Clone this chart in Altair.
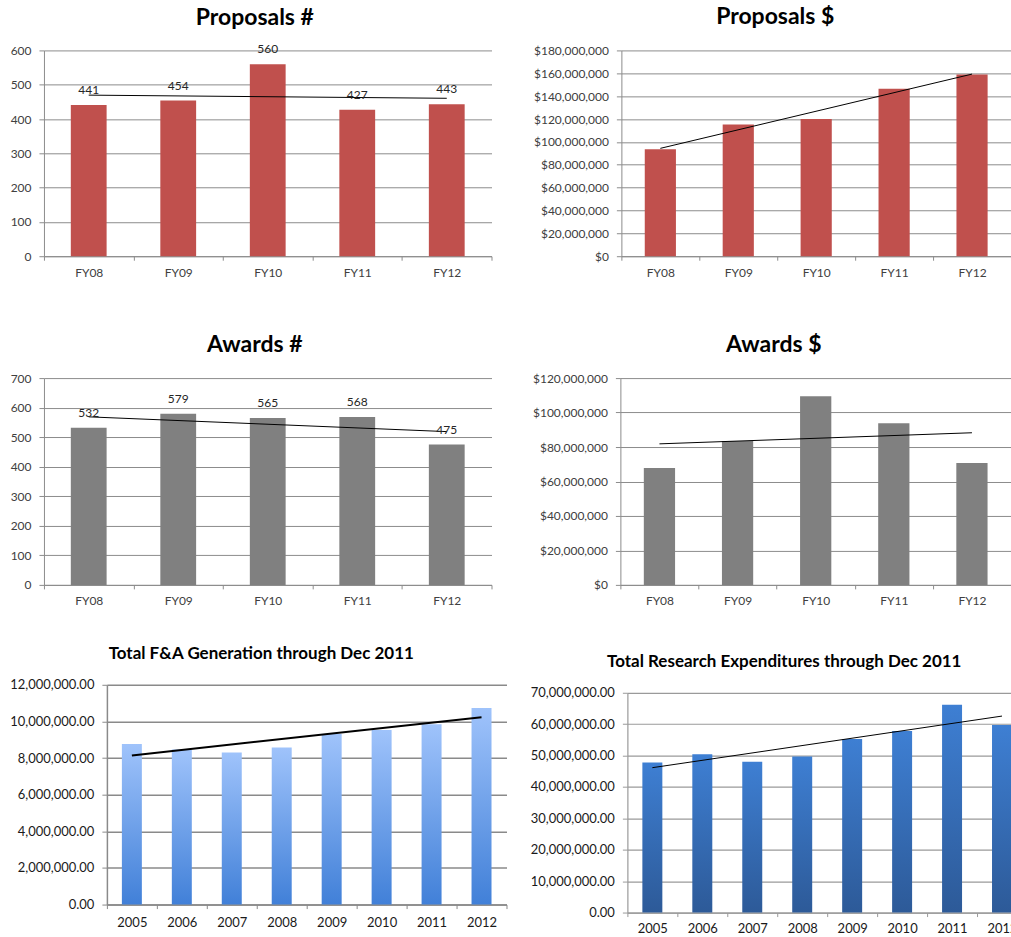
import altair as alt
import pandas as pd

# ---------------- data ----------------
fy = ["FY08", "FY09", "FY10", "FY11", "FY12"]
proposals_count = [441, 454, 560, 427, 443]
proposals_dollars = [93.5e6, 115.1e6, 120.0e6, 146.5e6, 159.0e6]
awards_count = [532, 579, 565, 568, 475]
awards_dollars = [67.8e6, 83.5e6, 109.5e6, 93.8e6, 70.7e6]

years = ["2005", "2006", "2007", "2008", "2009", "2010", "2011", "2012"]
fa_generation = [8.77e6, 8.46e6, 8.30e6, 8.57e6, 9.31e6, 9.53e6, 9.84e6, 10.73e6]
research_exp = [47.8e6, 50.4e6, 48.0e6, 49.7e6, 55.3e6, 57.8e6, 66.2e6, 59.7e6]

FONT = "Lato"


def gradient(top, bottom):
    return alt.Gradient(
        gradient="linear",
        stops=[alt.GradientStop(color=top, offset=0), alt.GradientStop(color=bottom, offset=1)],
        x1=0, x2=0, y1=0, y2=1,
    )


def panel(cats, vals, title, color, width, height, ymax, ystep, yfmt,
          title_size, title_dx, title_offset, label_size=12, xlabel_size=12,
          grid_color="#8c8c8c", grid_width=1, trend_width=1, data_labels=False,
          label_color="#404040", yrange=None, xrange=None, min_extent=None,
          yaxis_offset=0, xlabel_pad=7):
    n = len(cats)
    df = pd.DataFrame({"cat": cats, "val": vals, "idx": list(range(n))})
    base = alt.Chart(df)
    xs = dict(paddingInner=0, paddingOuter=0)
    if xrange is not None:
        xs["range"] = xrange
    x = alt.X(
        "cat:N", sort=cats, scale=alt.Scale(**xs),
        axis=alt.Axis(
            title=None, labelAngle=0, tickBand="extent", ticks=True, tickSize=4,
            tickColor=grid_color, domainColor=grid_color, domainWidth=grid_width,
            labelFont=FONT, labelFontSize=xlabel_size, labelColor=label_color,
            labelPadding=xlabel_pad, grid=False,
        ),
    )
    ys = dict(domain=[0, ymax], nice=False, zero=True)
    if yrange is not None:
        ys["range"] = yrange
    yvals = list(range(0, int(ymax) + 1, int(ystep)))
    yaxis = dict(
        title=None, values=yvals, format=yfmt, grid=True, gridColor=grid_color,
        gridWidth=grid_width, tickColor=grid_color, tickSize=5, domainColor=grid_color,
        domainWidth=grid_width, labelFont=FONT, labelFontSize=label_size,
        labelColor=label_color, labelPadding=8, labelOverlap=False,
    )
    if min_extent is not None:
        yaxis["minExtent"] = min_extent
    if yaxis_offset:
        yaxis["offset"] = yaxis_offset
    y = alt.Y("val:Q", scale=alt.Scale(**ys), axis=alt.Axis(**yaxis))

    bars = base.mark_bar(width=alt.RelativeBandSize(0.4), color=color).encode(x=x, y=y)
    expr = "[" + ",".join("'%s'" % c for c in cats) + "][datum.idx]"
    trend = (
        base.transform_regression("idx", "val", method="linear")
        .transform_calculate(cat=expr)
        .mark_line(color="black", strokeWidth=trend_width)
        .encode(x=x, y=y)
    )
    layers = [bars, trend]
    if data_labels:
        texts = base.mark_text(
            dy=-15, baseline="middle", font=FONT, fontSize=12, color="#262626"
        ).encode(x=x, y=y, text=alt.Text("val:Q", format="d"))
        layers.append(texts)
    return alt.layer(*layers).properties(
        width=width, height=height,
        title=alt.TitleParams(
            title, font=FONT, fontSize=title_size, fontWeight="bold", color="#000000",
            anchor="middle", dx=title_dx, offset=title_offset, baseline="bottom",
        ),
    )


p1 = panel(fy, proposals_count, "Proposals #", "#c0504d", 448, 206, 600, 100, "d",
           23, -13, -10, data_labels=True, min_extent=44)
p2 = panel(fy, proposals_dollars, "Proposals $", "#c0504d", 390, 206, 180e6, 20e6, "$,.0f",
           23, -41, -8, min_extent=100)
p3 = panel(fy, awards_count, "Awards #", "#808080", 448, 207, 700, 100, "d",
           23, -13, -8, data_labels=True, min_extent=44)
p4 = panel(fy, awards_dollars, "Awards $", "#808080", 391, 207, 120e6, 20e6, "$,.0f",
           23, -42, -8, min_extent=100)
p5 = panel(years, fa_generation, "Total F&A Generation through Dec 2011",
           gradient("#9fc3fb", "#4180d8"), 463, 220, 12e6, 2e6, ",.2f",
           17, -14, -1, label_size=13, xlabel_size=13, grid_color="#8a8a8a", grid_width=1.5,
           trend_width=2, label_color="#1a1a1a", xrange=[63, 463], yaxis_offset=-63,
           xlabel_pad=8)
p6 = panel(years, research_exp, "Total Research Expenditures through Dec 2011",
           gradient("#3e7fd3", "#2d5a98"), 400, 228, 70e6, 10e6, ",.2f",
           17, -43, -3, label_size=13, xlabel_size=13, grid_color="#9a9a9a", grid_width=1.2,
           trend_width=1, label_color="#1a1a1a", yrange=[228, 8], min_extent=100,
           xlabel_pad=6)

row1 = alt.hconcat(p1, p2, spacing=29)
row2 = alt.hconcat(p3, p4, spacing=28)
row3 = alt.hconcat(p5, p6, spacing=20)

chart = (
    alt.vconcat(alt.vconcat(row1, row2, spacing=56), row3, spacing=38)
    .properties(padding={"left": 0, "top": 6, "right": -17, "bottom": 0}, background="white")
    .configure_view(strokeWidth=0, stroke=None)
    .configure_concat(spacing=0)
)

chart.save("out.html", embed_options={"renderer": "svg", "actions": False})
